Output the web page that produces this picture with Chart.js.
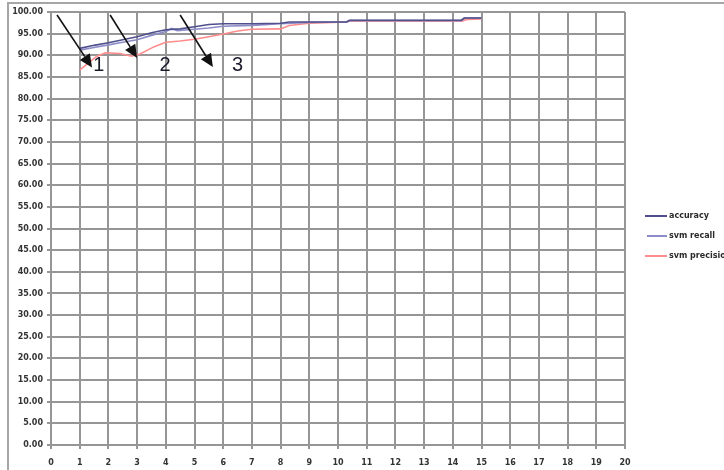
<!DOCTYPE html>
<html>
<head>
<meta charset="utf-8">
<script src="https://cdn.jsdelivr.net/npm/chart.js@4/dist/chart.umd.min.js"></script>
<style>
  html, body { margin: 0; padding: 0; background: #fff; }
  #wrap { position: relative; width: 724px; height: 470px; overflow: hidden; }
  #frame { position: absolute; left: 7px; top: 2px; width: 760px; height: 520px;
           border-top: 2px solid #a6a6a6; border-left: 2px solid #a6a6a6; }
  canvas { position: absolute; left: 0; top: 0; }
</style>
</head>
<body>
<div id="wrap">
  <div id="frame"></div>
  <canvas id="linechart" width="724" height="470"></canvas>
</div>
<script>
// run positions and scores (%) per series
const accX = [1, 1.5, 2, 2.5, 3, 3.5, 4, 4.5, 5, 5.5, 6, 7, 8, 8.3, 10.3, 10.4, 14.3, 14.4, 15];
const accuracy = [91.6, 92.3, 92.9, 93.6, 94.3, 95.2, 95.9, 96.1, 96.6, 97.1, 97.3, 97.3, 97.4, 97.7, 97.7, 98.1, 98.1, 98.6, 98.6];

const recX = [1, 1.5, 2, 2.5, 3, 3.5, 4, 4.2, 4.4, 5, 5.5, 6, 7, 8, 9, 10.3, 10.4, 14.3, 14.4, 15];
const recall = [91.2, 91.8, 92.4, 93.0, 93.6, 94.6, 95.5, 96.2, 95.7, 96.0, 96.3, 96.7, 96.9, 97.3, 97.6, 97.7, 98.0, 98.0, 98.6, 98.6];

const preX = [1, 1.3, 1.6, 1.9, 2.4, 2.8, 3.1, 3.6, 4, 4.5, 5, 5.5, 6, 6.5, 7, 8, 8.3, 9, 10.3, 10.4, 14.3, 14.5, 15];
const precision = [86.6, 88.2, 89.8, 90.6, 90.4, 89.8, 90.3, 92.0, 93.0, 93.3, 93.7, 94.3, 94.9, 95.6, 96.0, 96.1, 96.9, 97.4, 97.7, 97.9, 97.9, 98.3, 98.4];

const seriesNames = ['accuracy', 'svm recall', 'svm precision'];
const seriesColors = ['#50508c', '#8c8cc8', '#ff8c8c'];

// callout arrows: [fromX, fromY, toX, toY] and their numbers [x, y, text]
const arrows = [[0.21, 99.3, 1.43, 87.2], [2.06, 99.3, 3.0, 89.4], [4.5, 99.3, 5.64, 87.3]];
const callouts = [[1.67, 87.6, '1'], [3.97, 87.6, '2'], [6.5, 87.6, '3']];

function pts(xs, ys) {
    return xs.map((x, i) => ({ x: x, y: ys[i] }));
}

const gridColor = '#969696';

const calloutPlugin = {
    id: 'callouts',
    afterDatasetsDraw(chart) {
        const c = chart.ctx;
        const sx = chart.scales.x, sy = chart.scales.y;
        c.save();
        c.strokeStyle = '#111';
        c.fillStyle = '#111';
        c.lineWidth = 1.6;
        arrows.forEach(a => {
            const x1 = sx.getPixelForValue(a[0]), y1 = sy.getPixelForValue(a[1]);
            const x2 = sx.getPixelForValue(a[2]), y2 = sy.getPixelForValue(a[3]);
            const ang = Math.atan2(y2 - y1, x2 - x1);
            const len = 13, half = 6;
            const bx = x2 - len * Math.cos(ang), by = y2 - len * Math.sin(ang);
            c.beginPath();
            c.moveTo(x1, y1);
            c.lineTo(bx, by);
            c.stroke();
            c.beginPath();
            c.moveTo(x2, y2);
            c.lineTo(bx + half * Math.sin(ang), by - half * Math.cos(ang));
            c.lineTo(bx - half * Math.sin(ang), by + half * Math.cos(ang));
            c.closePath();
            c.fill();
        });
        c.font = '20px "Liberation Sans", sans-serif';
        c.textAlign = 'center';
        c.textBaseline = 'middle';
        c.fillStyle = '#1a1a2a';
        callouts.forEach(t => {
            c.fillText(t[2], sx.getPixelForValue(t[0]), sy.getPixelForValue(t[1]));
        });
        c.restore();
    }
};

// small legend to the right of the plot
const sideLegend = {
    id: 'sideLegend',
    afterDraw(chart) {
        const c = chart.ctx;
        const left = chart.chartArea.right + 20;
        const top = 216;
        c.save();
        c.font = 'bold 8px "DejaVu Sans", sans-serif';
        c.textBaseline = 'middle';
        chart.data.datasets.forEach((ds, i) => {
            const y = top + i * 20;
            c.strokeStyle = ds.borderColor;
            c.lineWidth = 2;
            c.beginPath();
            c.moveTo(left + (i === 1 ? 2 : 0), y);
            c.lineTo(left + 22, y);
            c.stroke();
            c.fillStyle = '#2a2a2a';
            c.fillText(ds.label, left + 24, y);
        });
        c.restore();
    }
};

const tickFont = { family: 'DejaVu Sans', size: 8, weight: 'bold' };

const ctx = document.getElementById('linechart').getContext('2d');
const myChart = new Chart(ctx, {
    type: 'scatter',
    data: {
        datasets: [
            { label: seriesNames[0], data: pts(accX, accuracy) },
            { label: seriesNames[1], data: pts(recX, recall) },
            { label: seriesNames[2], data: pts(preX, precision) }
        ].map((d, i) => Object.assign(d, {
            showLine: true,
            borderColor: seriesColors[i],
            backgroundColor: seriesColors[i],
            borderWidth: 1.6,
            pointRadius: 0,
            tension: 0
        }))
    },
    options: {
        responsive: false,
        animation: false,
        devicePixelRatio: 1,
        layout: { padding: { left: 0, right: 99, top: 12, bottom: 0 } },
        plugins: {
            legend: { display: false },
            tooltip: { enabled: false }
        },
        scales: {
            x: {
                type: 'linear',
                min: 0,
                max: 20,
                ticks: {
                    stepSize: 1,
                    color: '#333',
                    font: tickFont,
                    padding: 9,
                    maxRotation: 0
                },
                grid: { color: gridColor, lineWidth: 2, tickLength: 4 },
                border: { color: gridColor, width: 2 },
                afterFit(scale) { scale.height = 25; }
            },
            y: {
                min: 0,
                max: 100,
                ticks: {
                    stepSize: 5,
                    color: '#333',
                    font: tickFont,
                    padding: 4,
                    callback: v => v.toFixed(2)
                },
                grid: { color: gridColor, lineWidth: 2, tickLength: 4 },
                border: { color: gridColor, width: 2 },
                afterFit(scale) { scale.width = 51; }
            }
        }
    },
    plugins: [calloutPlugin, sideLegend]
});
</script>
</body>
</html>
